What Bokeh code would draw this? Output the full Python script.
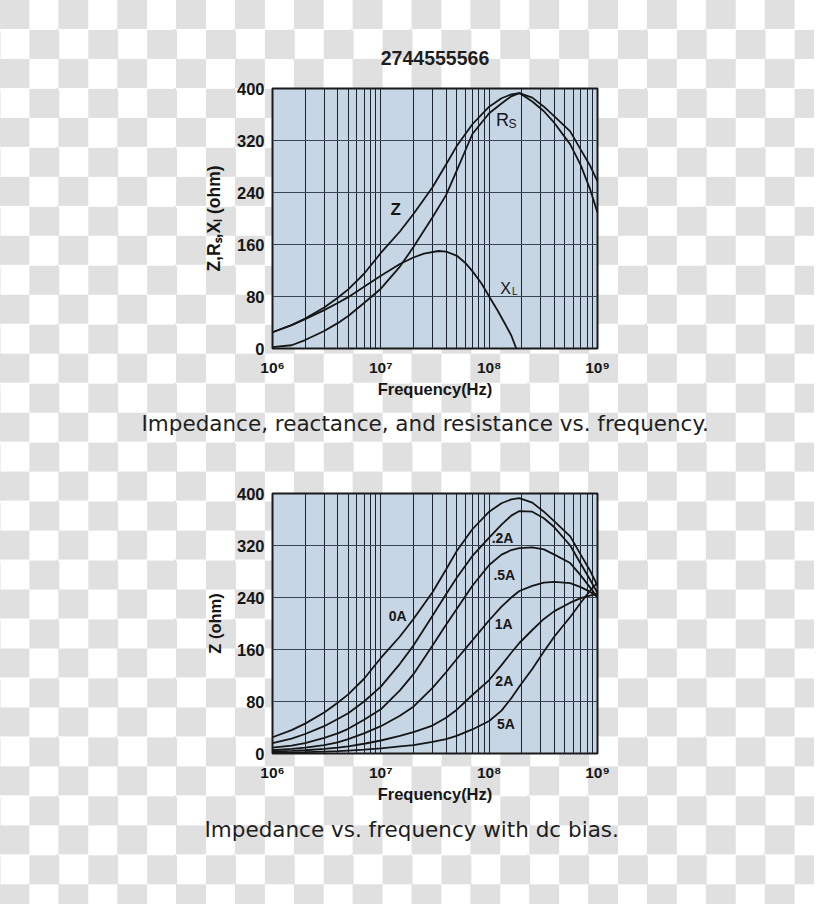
from bokeh.plotting import figure
from bokeh.models import Range1d, FixedTicker, Title, Label
from bokeh.layouts import column
from bokeh.embed import file_html
from bokeh.resources import INLINE

# ---------------- data: chart 1 (Z, Rs, XL vs frequency) ----------------
freq_a = [1e6, 1.5e6, 2e6, 3e6, 4e6, 5e6, 7e6, 1e7, 1.5e7, 2e7, 3e7, 4e7, 5e7, 7e7,
          1e8, 1.3e8, 1.6e8, 1.9e8, 2.5e8, 3.2e8, 4e8, 5.6e8, 7e8, 8.5e8, 1e9]
z_a = [25, 36, 46, 63, 78, 91, 115, 147, 180, 207, 248, 283, 311, 345,
       372, 385, 391, 393, 386, 372, 357, 334, 306, 282, 257]
rs_a = [2, 5, 13, 27, 39, 50, 70, 92, 126, 156, 202, 236, 273, 330,
        362, 377, 388, 393, 380, 365, 347, 314, 282, 246, 209]
freq_xl = [1e6, 1.5e6, 2e6, 3e6, 4e6, 5e6, 7e6, 1e7, 1.5e7, 2e7, 2.5e7, 3.4e7, 4e7,
           5e7, 6e7, 7e7, 8.5e7, 1e8, 1.2e8, 1.4e8, 1.6e8, 1.78e8]
xl_a = [25, 36, 45, 59, 70, 79, 95, 112, 130, 140, 146, 150, 149,
        143, 132, 119, 100, 80, 58, 38, 20, 0]

# ---------------- data: chart 2 (Z vs frequency with dc bias) ----------------
freq_b = [1e6, 1.5e6, 2e6, 3e6, 4e6, 5e6, 7e6, 1e7, 1.5e7, 2e7, 3e7, 4e7, 5e7, 7e7,
          1e8, 1.3e8, 1.6e8, 1.9e8, 2.5e8, 3.2e8, 4e8, 5.6e8, 7e8, 8.5e8, 1e9]
bias_names = ["0A", ".2A", ".5A", "1A", "2A", "5A"]
z_0a = [25, 36, 46, 63, 78, 91, 115, 147, 180, 207, 248, 283, 311, 345,
        372, 385, 391, 393, 386, 372, 357, 334, 306, 282, 258]
z_02a = [16, 23, 30, 42, 53, 62, 80, 103, 138, 166, 212, 245, 270, 304,
         332, 352, 366, 373, 372, 362, 348, 320, 292, 268, 247]
z_05a = [9, 12, 16, 24, 31, 38, 52, 68, 97, 122, 166, 198, 222, 258,
         290, 306, 313, 316, 317, 314, 306, 293, 274, 256, 240]
z_1a = [5, 7, 9, 13, 17, 22, 31, 42, 58, 72, 101, 125, 145, 174,
        205, 226, 240, 250, 258, 263, 264, 262, 256, 249, 241]
z_2a = [3, 4, 5, 7, 9, 11, 15, 20, 27, 33, 43, 55, 67, 90,
        113, 136, 155, 170, 190, 207, 219, 232, 239, 243, 246]
z_5a = [1, 1.5, 2, 3, 3.5, 4.5, 6, 8, 11, 13, 18, 22, 27, 37,
        50, 66, 85, 103, 130, 157, 180, 210, 232, 250, 263]
bias_series = [z_0a, z_02a, z_05a, z_1a, z_2a, z_5a]

# ---------------- ticks / labels ----------------
x_ticks = [10**6, 10**7, 10**8, 10**9]
x_tick_labels = ["10\u2076", "10\u2077", "10\u2078", "10\u2079"]
y_ticks = [0, 80, 160, 240, 320, 400]
grid_freqs = [m * 10**e for e in (6, 7, 8) for m in range(1, 10)] + [10**9]

title_text = "2744555566"
caption_1 = "Impedance, reactance, and resistance vs. frequency."
caption_2 = "Impedance vs. frequency with dc bias."
ylabel_1 = "Z,R\u209b,X\u2097 (ohm)"
ylabel_2 = "Z (ohm)"
xlabel = "Frequency(Hz)"

FONT = "Liberation Sans"
CAP_FONT = "DejaVu Sans"
W = 814
FRAME_W = 326
FRAME_H = 260
FILL = "#c6d6e5"
INK = "#161616"


def make_fig(height, top, left, ylabel):
    p = figure(width=W, height=height, x_axis_type="log",
               x_range=Range1d(1e6, 1e9), y_range=Range1d(0, 400),
               output_backend="svg", toolbar_location=None,
               min_border_left=left, min_border_right=W - left - FRAME_W,
               min_border_top=top, min_border_bottom=height - top - FRAME_H)
    p.border_fill_color = None
    p.background_fill_color = FILL
    p.outline_line_color = "#1a1a1a"
    p.outline_line_width = 2

    p.xaxis.ticker = FixedTicker(ticks=x_ticks, minor_ticks=[])
    p.xaxis.major_label_overrides = dict(zip(x_ticks, x_tick_labels))
    p.yaxis.ticker = FixedTicker(ticks=y_ticks, minor_ticks=[])
    for ax in (p.xaxis[0], p.yaxis[0]):
        ax.axis_line_color = None
        ax.major_tick_line_color = None
        ax.minor_tick_line_color = None
        ax.major_tick_out = 0
        ax.major_tick_in = 0
        ax.minor_tick_out = 0
        ax.major_label_text_font = FONT
        ax.major_label_text_font_style = "bold"
        ax.major_label_text_color = INK
        ax.axis_label_text_font = FONT
        ax.axis_label_text_font_style = "bold"
        ax.axis_label_text_font_size = "16.5px"
        ax.axis_label_text_color = INK
    p.xaxis.major_label_text_font_size = "15.5px"
    p.yaxis.major_label_text_font_size = "16.5px"
    p.xaxis.axis_label = xlabel
    p.xaxis.major_label_standoff = 10
    p.xaxis.axis_label_standoff = 1
    p.yaxis.axis_label = ylabel
    p.yaxis.major_label_standoff = 8
    p.yaxis.axis_label_standoff = 10

    p.xgrid.ticker = FixedTicker(ticks=grid_freqs)
    p.xgrid.grid_line_color = "#1c2330"
    p.xgrid.grid_line_width = 1
    p.ygrid.grid_line_color = "#3a4452"
    p.ygrid.grid_line_width = 1.2
    return p


def add_label(p, text, x, y, size, style="bold", dx=0, dy=0):
    p.add_layout(Label(x=x, y=y, text=text, x_offset=dx, y_offset=dy,
                       text_font=FONT, text_font_size=size, text_font_style=style,
                       text_color=INK, text_align="center", text_baseline="middle"))


def add_caption(p, text, offset, standoff):
    p.add_layout(Title(text=text, align="left", offset=offset, standoff=standoff,
                       text_font=CAP_FONT, text_font_size="21.5px",
                       text_font_style="normal", text_color="#1e1e1e"), "below")


# ---------------- figure 1 ----------------
p1 = make_fig(452, 88, 271, ylabel_1)
p1.yaxis.axis_label_text_font_size = "17.5px"
p1.title.text = title_text
p1.title.align = "center"
p1.title.text_font = FONT
p1.title.text_font_size = "19.5px"
p1.title.text_font_style = "bold"
p1.title.text_color = "#1e1e1e"
p1.title.standoff = 47

p1.line(freq_a, z_a, line_color=INK, line_width=1.8)
p1.line(freq_a, rs_a, line_color=INK, line_width=1.8)
p1.line(freq_xl, xl_a, line_color=INK, line_width=1.8)

add_label(p1, "Z", 1.37e7, 214, "17px")
add_label(p1, "R", 1.33e8, 352, "18px", style="normal")
add_label(p1, "S", 1.33e8, 352, "12px", style="normal", dx=10, dy=-4)
add_label(p1, "X", 1.42e8, 92, "16px", style="normal")
add_label(p1, "L", 1.42e8, 92, "10px", style="normal", dx=9, dy=-3)

add_caption(p1, caption_1, -131, 16)

# ---------------- figure 2 ----------------
p2 = make_fig(452, 41, 272, ylabel_2)
for ys in bias_series:
    p2.line(freq_b, ys, line_color=INK, line_width=1.8)

bias_label_pos = [(1.43e7, 211), (1.33e8, 332), (1.38e8, 274),
                  (1.36e8, 199), (1.38e8, 111), (1.43e8, 45)]
for name, (bx, by) in zip(bias_names, bias_label_pos):
    add_label(p2, name, bx, by, "14px")

add_caption(p2, caption_2, -68, 18)

layout = column(p1, p2, spacing=0)
layout.styles = {
    "background-image": "conic-gradient(#e0e0e0 25%, #ffffff 0 50%, #e0e0e0 0 75%, #ffffff 0)",
    "background-size": "58.86px 58.96px",
    "background-position": "29.43px 0",
}

open("out.html", "w").write(file_html(layout, INLINE))
